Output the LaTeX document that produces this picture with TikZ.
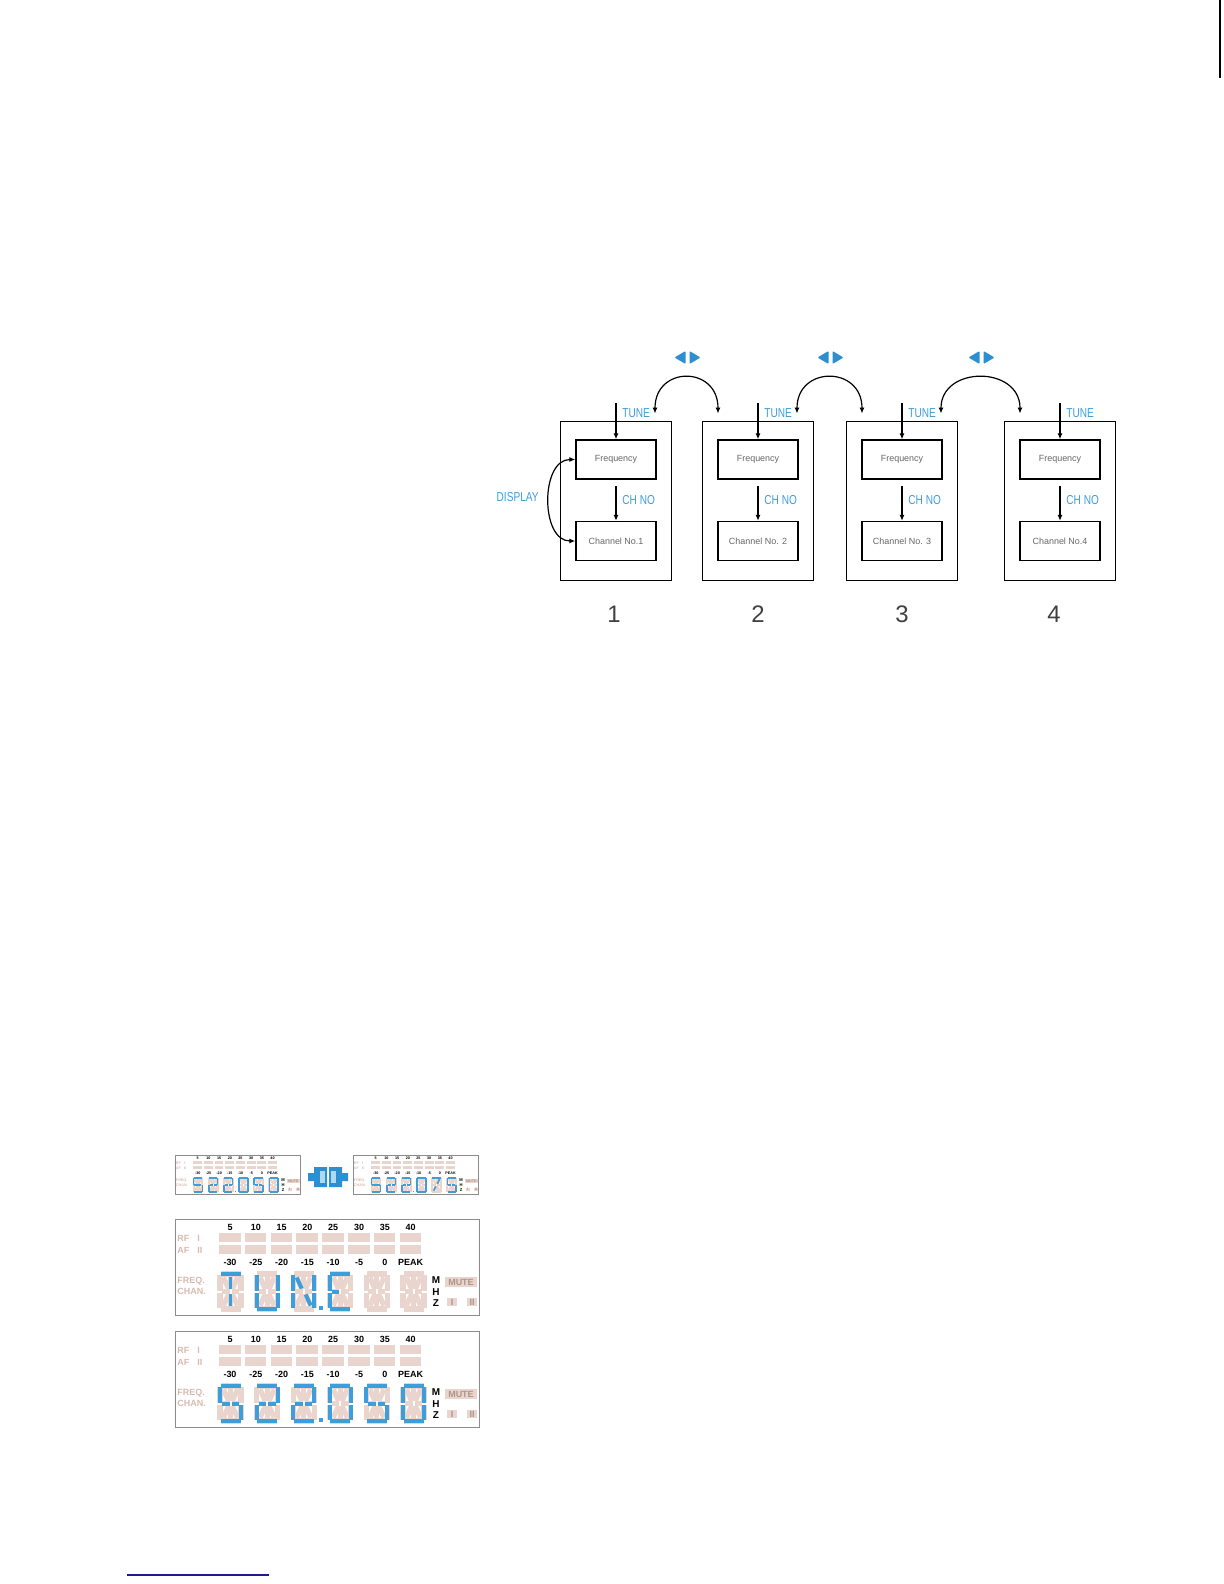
\documentclass[tikz,border=0pt]{standalone}
\usepackage{fontspec}
\setmainfont{Liberation Sans}
\newfontfamily\narrowfont[FakeStretch=0.78]{Liberation Sans}
\usetikzlibrary{arrows.meta,positioning,calc}
\definecolor{tuneblue}{HTML}{3D9DDB}
\definecolor{keyblue}{HTML}{2B8FD2}
\definecolor{segon}{HTML}{3C9FDC}
\definecolor{segoff}{HTML}{E9D5CD}
\definecolor{lcdtxt}{HTML}{D6BAB0}
\definecolor{linkblue}{HTML}{1C1C8E}

\makeatletter
% segment ends inside a 25 x 39 digit
\def\lcdsegtable{a/2.5/2/22.5/2, b/23/3/23/18.5,
  c/23/20.5/23/36, d/2.5/37/22.5/37, e/2/20.5/2/36,
  f/2/3/2/18.5, g1/4/19.5/11.5/19.5, g2/13.5/19.5/21/19.5,
  h/5.5/5.5/10.5/16.5, i/12.5/5/12.5/17, j/19.5/5.5/14.5/16.5,
  k/5.5/33.5/10.5/22.5, l/12.5/22/12.5/34, m/19.5/33.5/14.5/22.5}
% one 14-segment digit, #2 = lit segments
\newcommand\lcddigit[2]{%
  \edef\lcdlit{#2}%
  \begin{scope}[shift={(#1,53)}]
    \foreach \sg/\xa/\ya/\xb/\yb in \lcdsegtable{\draw[lcdseg] (\xa,\ya) -- (\xb,\yb);}
    \foreach \sg/\xa/\ya/\xb/\yb in \lcdsegtable{%
      \edef\lcdtest{\noexpand\in@{,\sg,}{,\lcdlit,}}\lcdtest
      \ifin@ \draw[lcdlitseg] (\xa,\ya) -- (\xb,\yb); \fi
    }
  \end{scope}}
% whole display, #1 origin, #2 scale, #3 digits, #4 name
\newcommand\lcdpanel[4]{%
  \begin{scope}[shift={#1},scale=#2,transform shape]
    \pgfmathsetmacro\lcdsc{#2}
    \draw[lcdframe] (0,0) rectangle (304,96);
    \foreach \i/\up/\dn in {0/5/-30,1/10/-25,2/15/-20,3/20/-15,4/25/-10,5/30/-5,6/35/0,7/40/PEAK}{
      \fill[segoff] ({44+25.8*\i},14) rectangle +(21.5,8.5);
      \fill[segoff] ({44+25.8*\i},26) rectangle +(21.5,8.5);
      \node[lcdnum] (#4u\i) at ({55+25.8*\i},8) {\up};
      \node[lcdnum] (#4d\i) at ({55+25.8*\i},43) {\dn};
    }
    \node[lcdlab] (#4rf) at (2,19) {RF\hspace{4pt}I};
    \node[lcdlab] (#4af) at (2,31) {AF\hspace{4pt}II};
    \node[lcdlab] (#4fr) at (2,62) {FREQ.};
    \node[lcdlab] (#4ch) at (2,72) {CHAN.};
    \foreach \segs [count=\k from 0] in {#3}{\lcddigit{43+36.6*\k}{\segs}}
    \fill[segon] (144,87) rectangle +(3.5,3.5);
    \node[lcdnum,font=\bfseries\fontsize{5}{5}\selectfont] (#4m) at (261,61) {M};
    \node[lcdnum,font=\bfseries\fontsize{5}{5}\selectfont] (#4h) at (261,73) {H};
    \node[lcdnum,font=\bfseries\fontsize{5}{5}\selectfont] (#4z) at (261,84) {Z};
    \node[lcdbox,minimum width=16bp,minimum height=5bp] (#4mute) at (286,63) {MUTE};
    \node[lcdbox,minimum width=5bp,minimum height=4bp] (#4one) at (277,83) {I};
    \node[lcdbox,minimum width=5bp,minimum height=4bp] (#4two) at (297,83) {II};
  \end{scope}}
\makeatother

\begin{document}
\begin{tikzpicture}[x=0.5bp, y=-0.5bp, >={Latex[length=3pt,width=2.6pt]},
  outerbox/.style={draw, line width=0.5pt, minimum width=55.5bp, minimum height=79.5bp, inner sep=0pt},
  innerbox/.style={draw, line width=0.75pt, minimum width=40bp, minimum height=19.5bp, inner sep=0pt,
    font=\fontsize{4.5}{5}\selectfont, text=black!60},
  bluelab/.style={text=tuneblue, font=\narrowfont\fontsize{6.5}{7}\selectfont, inner sep=0pt},
  numlab/.style={font=\fontsize{12}{13}\selectfont, text=black!75},
  flow/.style={->, line width=0.6pt},
  hop/.style={<->, line width=0.6pt},
  lcdframe/.style={draw=black!45, line width=0.4pt},
  lcdseg/.style={draw=segoff, line width=\lcdsc*2.6pt},
  lcdlitseg/.style={draw=segon, line width=\lcdsc*2pt},
  lcdnum/.style={font=\bfseries\fontsize{4.5}{5}\selectfont, inner sep=0pt},
  lcdlab/.style={font=\bfseries\fontsize{4.5}{5}\selectfont, text=lcdtxt, inner sep=0pt, anchor=west},
  lcdbox/.style={fill=segoff, text=lcdtxt!80!black, font=\bfseries\fontsize{4.5}{5}\selectfont, inner sep=0pt},
  lrkey/.pic={
    \fill[keyblue, rounded corners=0.5pt] (-2,-6.5) -- (-13,0) -- (-2,6.5) -- cycle;
    \fill[keyblue, rounded corners=0.5pt] (2,-6.5) -- (13,0) -- (2,6.5) -- cycle;
  },
  panelkey/.pic={
    \fill[keyblue] (-1,-10) -- (-14,-10) -- (-14,-4) -- (-20,-4) -- (-20,4) -- (-14,4) -- (-14,10) -- (-1,10) -- cycle;
    \fill[keyblue] (1,-10) -- (14,-10) -- (14,-4) -- (20,-4) -- (20,4) -- (14,4) -- (14,10) -- (1,10) -- cycle;
    \fill[tuneblue!40] (-8,-6) rectangle (-3,6);
    \fill[tuneblue!40] (3,-6) rectangle (8,6);
  }]
  \useasboundingbox (0,0) rectangle (1224,1584);

  % channel memories
  \foreach \n/\x/\ch/\dx in {1/616/{Channel No.1}/-2,2/758/{Channel No. 2}/0,3/902/{Channel No. 3}/0,4/1060/{Channel No.4}/-6}{
    \node[outerbox] (b\n) at (\x,500.5) {};
    \node[innerbox] (f\n) at (\x,459.5) {Frequency};
    \node[innerbox] (c\n) at (\x,541) {\ch};
    \coordinate (t\n) at (\x,403);
    \coordinate (n\n) at ($(f\n.south)+(0,6)$);
    \draw[flow] (t\n) -- (f\n);
    \draw[flow] (n\n) -- (c\n);
    \node[bluelab, anchor=west] (tl\n) at (\x+6,413) {TUNE};
    \node[bluelab, anchor=west] (cl\n) at (\x+6,500) {CH NO};
    \node[numlab] (num\n) at (\x+\dx,614) {\n};
  }
  \foreach \n/\m in {1/2,2/3,3/4}{
    \coordinate (al\n) at ($(b\n.north)+(39,-7)$);
    \coordinate (ar\n) at ($(b\m.north)+(-40,-7)$);
    \draw[hop] (al\n) .. controls +(0,-48) and +(0,-48) .. (ar\n);
    \pic (k\n) at ($(al\n)!0.5!(ar\n)+(1,-56)$) {lrkey};
  }
  \draw[hop] (f1.west) to[out=180,in=180,looseness=1.1] (c1.west);
  \node[bluelab, anchor=east] (disp) at (539,497) {DISPLAY};

  % displays
  \lcdpanel{(175,1155)}{0.414}{{a,f,g1,g2,c,d},{a,b,g1,g2,e,d},{a,b,g1,g2,e,d},{a,b,c,d,e,f},{a,f,g1,g2,c,d},{a,b,c,d,e,f}}{pa}
  \lcdpanel{(353,1155)}{0.414}{{a,f,g1,g2,c,d},{a,b,g1,g2,e,d},{a,b,g1,g2,e,d},{a,b,c,d,e,f},{a,j,k},{a,f,g1,g2,c,d}}{pb}
  \pic (pk) at (328,1177) {panelkey};
  \lcdpanel{(175,1219)}{1}{{a,i,l},{b,c,d,e,f},{b,c,e,f,h,m},{a,d,e,f,g1},{},{}}{pc}
  \lcdpanel{(175,1331)}{1}{{a,f,g1,g2,c,d},{a,b,g1,g2,e,d},{a,b,g1,g2,e,d},{a,b,c,d,e,f},{a,f,g1,g2,c,d},{a,b,c,d,e,f}}{pd}

  % page marks
  \draw[line width=1pt] (1220,0) -- (1220,78);
  \draw[linkblue, line width=0.9pt] (127,1575) -- (269,1575);
\end{tikzpicture}
\end{document}
